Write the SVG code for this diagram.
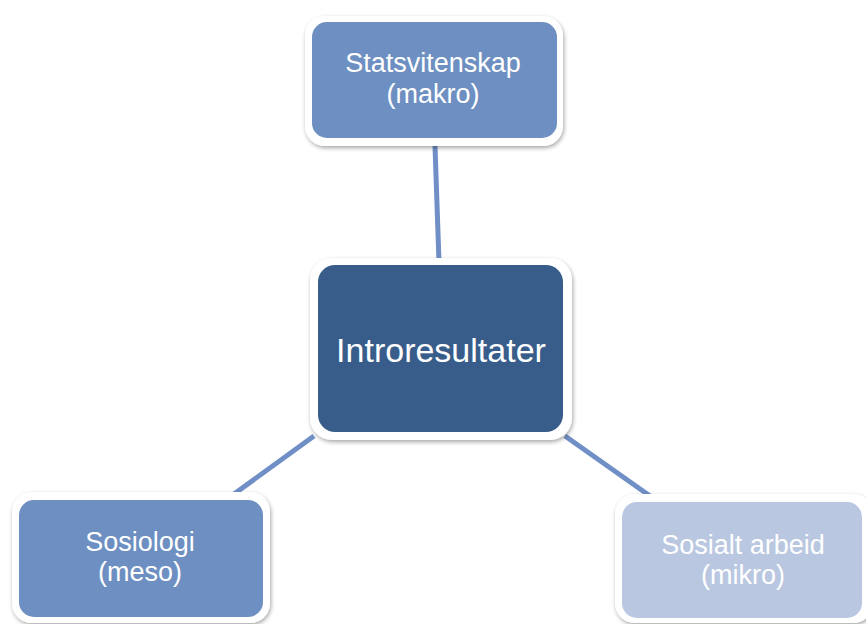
<svg xmlns="http://www.w3.org/2000/svg" width="866" height="624" viewBox="0 0 866 624">
<style>
.frame{fill:#ffffff;filter:url(#sh)}
.t{font-family:"Liberation Sans",Arial,sans-serif;fill:#ffffff;text-anchor:middle}
.s{font-size:27px}
.c{font-size:34px}
.conn{stroke:#6f8fc6;stroke-width:5;fill:none}
</style>
<defs>
<filter id="sh" x="-10%" y="-10%" width="125%" height="125%">
<feDropShadow dx="1" dy="2" stdDeviation="2" flood-color="#000" flood-opacity="0.35"/>
</filter>
</defs>
<rect width="866" height="624" fill="#ffffff"/>
<g id="connectors">
<line class="conn" x1="435" y1="146" x2="439" y2="262"/>
<line class="conn" x1="234" y1="494" x2="314" y2="436"/>
<line class="conn" x1="565" y1="436" x2="650" y2="496"/>
</g>
<g id="node-statsvitenskap">
<rect class="frame" x="305" y="16" width="258" height="130" rx="20"/>
<rect x="312" y="22" width="245" height="116" rx="15" fill="#6d8fc1"/>
<text class="t s" x="433" y="72">Statsvitenskap</text>
<text class="t s" x="433" y="103">(makro)</text>
</g>
<g id="node-introresultater">
<rect class="frame" x="310" y="258" width="262" height="182" rx="22"/>
<rect x="318" y="265" width="245" height="167" rx="17" fill="#385d8a"/>
<text class="t c" x="441" y="362">Introresultater</text>
</g>
<g id="node-sosiologi">
<rect class="frame" x="12" y="492" width="258" height="131" rx="20"/>
<rect x="19" y="500" width="244" height="117" rx="15" fill="#6d8fc1"/>
<text class="t s" x="140" y="551">Sosiologi</text>
<text class="t s" x="140" y="581">(meso)</text>
</g>
<g id="node-sosialt-arbeid">
<rect class="frame" x="615" y="494" width="258" height="129" rx="20"/>
<rect x="622" y="502" width="240" height="116" rx="15" fill="#b9c7e0"/>
<text class="t s" x="743" y="554">Sosialt arbeid</text>
<text class="t s" x="743" y="584">(mikro)</text>
</g>
</svg>
